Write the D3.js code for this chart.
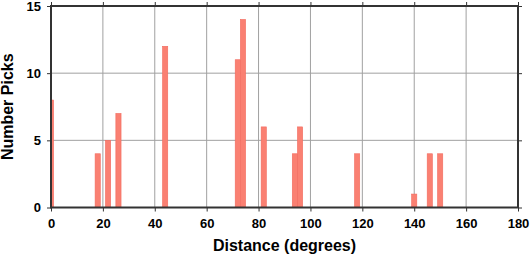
<!DOCTYPE html>
<html>
<head>
<meta charset="utf-8">
<script src="https://cdn.jsdelivr.net/npm/d3@7"></script>
<style>
  body { margin: 0; background: #fff; }
  svg { display: block; }
  text { font-family: "Liberation Sans", Arial, sans-serif; font-weight: bold; fill: #000; }
</style>
</head>
<body>
<script>
const width = 530;
const height = 258;

// bin centres (degrees) and pick counts per 2-degree bin
const binCenters = [0, 18, 22, 26, 44, 72, 74, 82, 94, 96, 118, 140, 146, 150];
const picks = [8, 4, 5, 7, 12, 11, 14, 6, 4, 6, 4, 1, 4, 4];
const binWidth = 2;

const xTicks = [0, 20, 40, 60, 80, 100, 120, 140, 160, 180];
const yTicks = [0, 5, 10, 15];

const plotLeft = 51, plotRight = 518, plotTop = 6, plotBottom = 207.5;

const x = d3.scaleLinear().domain([0, 180]).range([plotLeft, plotRight]);
const y = d3.scaleLinear().domain([0, 15]).range([plotBottom, plotTop]);

const svg = d3.select("body")
  .append("svg")
  .attr("width", width)
  .attr("height", height);

// grid
svg.append("g")
  .selectAll("line")
  .data(xTicks)
  .enter()
  .append("line")
  .attr("x1", d => x(d))
  .attr("x2", d => x(d))
  .attr("y1", plotTop)
  .attr("y2", plotBottom)
  .attr("stroke", "#a0a0a0")
  .attr("stroke-width", 1);

svg.append("g")
  .selectAll("line")
  .data(yTicks)
  .enter()
  .append("line")
  .attr("x1", plotLeft)
  .attr("x2", plotRight)
  .attr("y1", d => y(d))
  .attr("y2", d => y(d))
  .attr("stroke", "#a0a0a0")
  .attr("stroke-width", 1);

// bars
const bins = binCenters.map((c, i) => ({
  x0: Math.max(0, c - binWidth / 2),
  x1: Math.min(180, c + binWidth / 2),
  n: picks[i]
}));

svg.append("g")
  .selectAll("rect")
  .data(bins)
  .enter()
  .append("rect")
  .attr("x", d => x(d.x0))
  .attr("width", d => x(d.x1) - x(d.x0))
  .attr("y", d => y(d.n))
  .attr("height", d => y(0) - y(d.n))
  .attr("fill", "#fa8072")
  .attr("stroke", "#f26a5e")
  .attr("stroke-width", 0.6);

// axes (ticks outside on all four sides)
const tickLen = 4;
const xAxis = svg.append("g")
  .attr("transform", `translate(0,${plotBottom})`)
  .call(d3.axisBottom(x).tickValues(xTicks).tickSize(tickLen).tickPadding(7));
const xAxisTop = svg.append("g")
  .attr("transform", `translate(0,${plotTop})`)
  .call(d3.axisTop(x).tickValues(xTicks).tickSize(tickLen).tickFormat(""));
const yAxis = svg.append("g")
  .attr("transform", `translate(${plotLeft},0)`)
  .call(d3.axisLeft(y).tickValues(yTicks).tickSize(tickLen).tickPadding(6));
const yAxisRight = svg.append("g")
  .attr("transform", `translate(${plotRight},0)`)
  .call(d3.axisRight(y).tickValues(yTicks).tickSize(tickLen).tickFormat(""));

[xAxis, xAxisTop, yAxis, yAxisRight].forEach(g => {
  g.select(".domain").remove();
  g.selectAll(".tick line").attr("stroke", "#333");
  g.selectAll("text")
    .style("font-size", "13px")
    .style("font-family", "'Liberation Sans', Arial, sans-serif")
    .style("font-weight", "bold")
    .attr("fill", "#000");
});

// frame
svg.append("rect")
  .attr("x", plotLeft)
  .attr("y", plotTop)
  .attr("width", plotRight - plotLeft)
  .attr("height", plotBottom - plotTop)
  .attr("fill", "none")
  .attr("stroke", "#333")
  .attr("stroke-width", 2);

// titles
svg.append("text")
  .attr("x", (plotLeft + plotRight) / 2)
  .attr("y", 251)
  .attr("text-anchor", "middle")
  .style("font-size", "16px")
  .text("Distance (degrees)");

svg.append("text")
  .attr("transform", `translate(13,${(plotTop + plotBottom) / 2}) rotate(-90)`)
  .attr("text-anchor", "middle")
  .style("font-size", "16px")
  .text("Number Picks");
</script>
</body>
</html>
